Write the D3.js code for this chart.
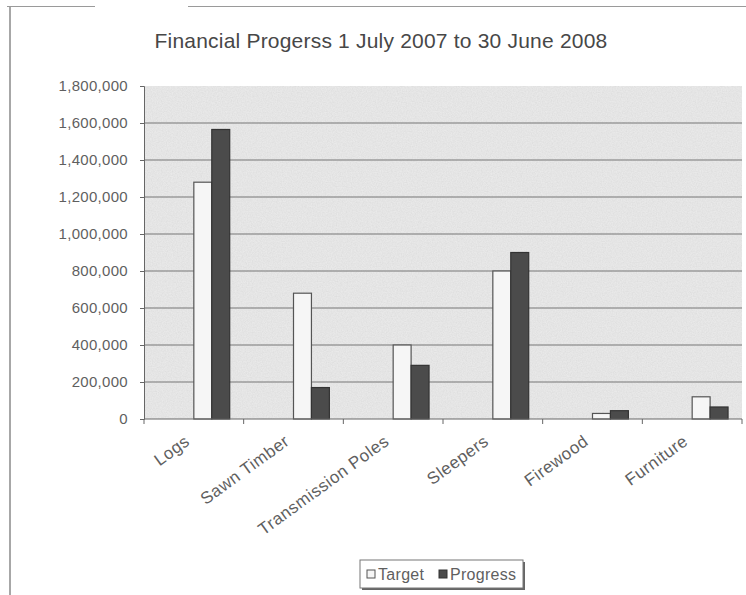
<!DOCTYPE html>
<html lang="en">
<head>
    <meta charset="UTF-8">
    <script src="https://cdn.jsdelivr.net/npm/d3@7"></script>
    <title>Financial Progerss</title>
    <style>
        body { margin: 0; background: #fff; }
        svg { display: block; font-family: "Liberation Sans", Arial, sans-serif; }
    </style>
</head>
<body>
<svg width="746" height="595"></svg>

<script>
    const WIDTH = 746;
    const HEIGHT = 595;
    const PLOT = {left: 144, right: 742, top: 86, bottom: 419};

    const categories = ["Logs", "Sawn Timber", "Transmission Poles", "Sleepers", "Firewood", "Furniture"];
    const seriesNames = ["Target", "Progress"];
    const target = [1280000, 680000, 400000, 800000, 30000, 120000];
    const progress = [1565000, 170000, 290000, 900000, 45000, 65000];
    const yTicks = [0, 200000, 400000, 600000, 800000, 1000000, 1200000, 1400000, 1600000, 1800000];

    const fills = {Target: "#f6f6f6", Progress: "#4b4b4b"};
    const strokes = {Target: "#555", Progress: "#333"};

    const svg = d3.select("svg");

    function init() {
        drawFrame();
        const [x0, x1, y] = makeScales();
        drawPlotArea(y);
        drawBars(x0, x1, y);
        drawAxes(x0, y);
        drawTitle();
        drawLegend();
    }

    function makeScales() {
        const x0 = d3.scaleBand()
            .domain(categories)
            .range([PLOT.left, PLOT.right]);

        // Excel puts the group of bars starting at the category centre
        const half = x0.bandwidth() / 2;
        const x1 = d3.scaleBand()
            .domain(seriesNames)
            .range([half, half + x0.bandwidth() * 0.36]);

        const y = d3.scaleLinear()
            .domain([0, 1800000])
            .range([PLOT.bottom, PLOT.top]);

        return [x0, x1, y];
    }

    function drawFrame() {
        svg.append("line")
            .attr("x1", 10).attr("x2", 10)
            .attr("y1", 7).attr("y2", HEIGHT)
            .attr("stroke", "#8a8a8a").attr("stroke-width", 1.5);
        svg.append("line")
            .attr("x1", 7).attr("x2", 95)
            .attr("y1", 6.5).attr("y2", 6.5)
            .attr("stroke", "#9a9a9a");
        svg.append("line")
            .attr("x1", 188).attr("x2", WIDTH)
            .attr("y1", 6.5).attr("y2", 6.5)
            .attr("stroke", "#9a9a9a");
    }

    function drawPlotArea(y) {
        // speckled grey like the printed plot area
        const filter = svg.append("defs").append("filter")
            .attr("id", "speckle")
            .attr("x", 0).attr("y", 0).attr("width", 1).attr("height", 1);
        filter.append("feTurbulence")
            .attr("type", "fractalNoise")
            .attr("baseFrequency", 0.8)
            .attr("numOctaves", 2)
            .attr("seed", 3)
            .attr("result", "noise");
        filter.append("feColorMatrix")
            .attr("in", "noise")
            .attr("type", "matrix")
            .attr("values", "0 0 0 0 0.45  0 0 0 0 0.45  0 0 0 0 0.45  0 0 0 0.35 -0.08")
            .attr("result", "dots");
        filter.append("feComposite")
            .attr("in", "dots")
            .attr("in2", "SourceGraphic")
            .attr("operator", "over");

        svg.append("rect")
            .attr("x", PLOT.left)
            .attr("y", PLOT.top)
            .attr("width", PLOT.right - PLOT.left)
            .attr("height", PLOT.bottom - PLOT.top)
            .attr("fill", "#e9e9e9")
            .attr("filter", "url(#speckle)");

        svg.append("g")
            .attr("class", "grid")
            .selectAll("line")
            .data(yTicks.filter(d => d > 0 && d < 1800000))
            .enter()
            .append("line")
            .attr("x1", PLOT.left)
            .attr("x2", PLOT.right)
            .attr("y1", d => y(d))
            .attr("y2", d => y(d))
            .attr("stroke", "#777")
            .attr("stroke-width", 1.2);
    }

    function drawBars(x0, x1, y) {
        const rows = categories.map((c, i) => ({
            category: c,
            values: [{key: "Target", value: target[i]}, {key: "Progress", value: progress[i]}]
        }));

        const groups = svg.selectAll("g.bars")
            .data(rows)
            .enter()
            .append("g")
            .attr("class", "bars")
            .attr("transform", d => `translate(${x0(d.category)},0)`);

        groups.selectAll("rect")
            .data(d => d.values)
            .enter()
            .append("rect")
            .attr("x", d => x1(d.key))
            .attr("y", d => y(d.value))
            .attr("width", x1.bandwidth())
            .attr("height", d => y(0) - y(d.value))
            .attr("fill", d => fills[d.key])
            .attr("stroke", d => strokes[d.key])
            .attr("stroke-width", 1.2);
    }

    function drawAxes(x0, y) {
        const axisLeft = d3.axisLeft(y)
            .tickValues(yTicks)
            .tickSize(4)
            .tickPadding(12)
            .tickFormat(d3.format(","));

        const gy = svg.append("g")
            .attr("class", "axis left")
            .attr("transform", `translate(${PLOT.left}, 0)`)
            .call(axisLeft);
        gy.selectAll("text")
            .attr("font-size", 15)
            .attr("letter-spacing", 0.3)
            .attr("fill", "#5f5f5f");
        gy.selectAll("line, path").attr("stroke", "#666");

        // ticks sit on the category boundaries
        const boundaries = categories.map(c => x0(c)).concat([PLOT.right]);
        const gx = svg.append("g").attr("class", "axis bottom");
        gx.append("line")
            .attr("x1", PLOT.left).attr("x2", PLOT.right)
            .attr("y1", PLOT.bottom).attr("y2", PLOT.bottom)
            .attr("stroke", "#666");
        gx.selectAll("line.tick")
            .data(boundaries)
            .enter()
            .append("line")
            .attr("class", "tick")
            .attr("x1", d => d).attr("x2", d => d)
            .attr("y1", PLOT.bottom).attr("y2", PLOT.bottom + 5)
            .attr("stroke", "#666");

        gx.selectAll("text")
            .data(categories)
            .enter()
            .append("text")
            .attr("transform", d => `translate(${x0(d) + x0.bandwidth() / 2 - 10}, ${PLOT.bottom + 15}) rotate(-36)`)
            .attr("text-anchor", "end")
            .attr("dy", "0.7em")
            .attr("font-size", 17)
            .attr("letter-spacing", 0.5)
            .attr("fill", "#5f5f5f")
            .text(d => d);
    }

    function drawTitle() {
        svg.append("text")
            .attr("x", 381)
            .attr("y", 48)
            .attr("text-anchor", "middle")
            .attr("font-size", 21)
            .attr("letter-spacing", 0.2)
            .attr("fill", "#474747")
            .text("Financial Progerss 1 July 2007 to 30 June 2008");
    }

    function drawLegend() {
        const g = svg.append("g").attr("class", "legend")
            .attr("transform", "translate(360, 560)");

        g.append("rect")
            .attr("x", 2).attr("y", 2)
            .attr("width", 163).attr("height", 28)
            .attr("fill", "#666");
        g.append("rect")
            .attr("width", 163).attr("height", 28)
            .attr("fill", "#fff")
            .attr("stroke", "#777");

        const items = g.selectAll("g.item")
            .data(seriesNames)
            .enter()
            .append("g")
            .attr("class", "item")
            .attr("transform", (d, i) => `translate(${i === 0 ? 7 : 79}, 0)`);

        items.append("rect")
            .attr("x", 0).attr("y", 10)
            .attr("width", 8).attr("height", 8)
            .attr("fill", d => fills[d])
            .attr("stroke", d => strokes[d]);

        items.append("text")
            .attr("x", 11).attr("y", 20)
            .attr("font-size", 16)
            .attr("letter-spacing", 0.3)
            .attr("fill", "#5f5f5f")
            .text(d => d);
    }

    init();
</script>
</body>
</html>
